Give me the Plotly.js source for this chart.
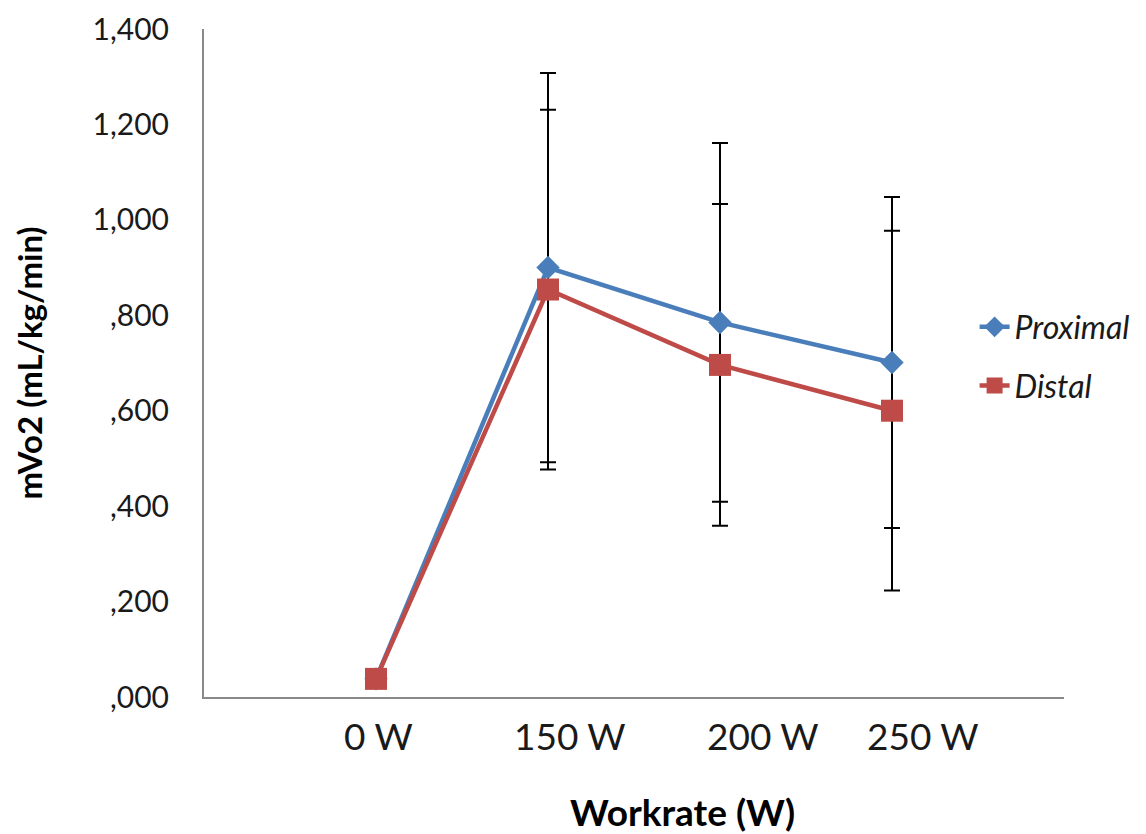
<!DOCTYPE html>
<html>
<head>
<meta charset="utf-8">
<script src="https://cdn.plot.ly/plotly-3.0.1.min.js"></script>
<style>
  html, body { margin: 0; padding: 0; background: #ffffff; }
  #chart { width: 1146px; height: 834px; }
</style>
</head>
<body>
<div id="chart"></div>
<script>
// Workrate categories and mean mVo2 per electrode position
const categories = ["0 W", "150 W", "200 W", "250 W"];
const proximal = [38, 900, 785, 701];
const distal = [38, 854, 696, 600];
// Standard deviations (symmetric error bars)
const proximalSD = [0, 408, 376, 347];
const distalSD = [0, 377, 337, 377];
// Y axis ticks
const yTickVals = [0, 200, 400, 600, 800, 1000, 1200, 1400];
const yTickText = [",000", ",200", ",400", ",600", ",800", "1,000", "1,200", "1,400"];

const BLUE = "#4A7EBB";
const RED = "#BE4B48";
const FONT = "Lato, 'Open Sans', sans-serif";

// Category label placement along the bottom (paper x)
const labelX = [0.203, 0.425, 0.650, 0.836];

function errTrace(y, sd) {
  return {
    x: categories, y: y, type: "scatter", mode: "markers",
    marker: { size: 1, opacity: 0 },
    error_y: { type: "data", array: sd, visible: true, color: "#000000", thickness: 2, width: 8 },
    showlegend: false, hoverinfo: "skip"
  };
}

const traces = [
  errTrace(proximal, proximalSD),
  errTrace(distal, distalSD),
  {
    x: categories, y: proximal, name: "Proximal", type: "scatter", mode: "lines+markers",
    line: { color: BLUE, width: 4.5 },
    marker: { symbol: "diamond", size: 18, color: BLUE },
    legendgroup: "p"
  },
  {
    x: categories, y: distal, name: "Distal", type: "scatter", mode: "lines+markers",
    line: { color: RED, width: 4.5 },
    marker: { symbol: "square", size: 22, color: RED },
    legendgroup: "d"
  }
];

const annotations = categories.map((c, i) => ({
  text: c, xref: "paper", yref: "paper", x: labelX[i], y: -0.057,
  xanchor: "center", yanchor: "middle", showarrow: false,
  font: { family: FONT, size: 37, color: "#1a1a1a" }
}));
annotations.push({
  text: "<b>Workrate (W)</b>", xref: "paper", yref: "paper", x: 0.556, y: -0.172,
  xanchor: "center", yanchor: "middle", showarrow: false,
  font: { family: FONT, size: 37, color: "#000000" }
});
annotations.push({
  text: "<b>mVo2 (mL/kg/min)</b>", xref: "paper", yref: "paper", x: -0.204, y: 0.5,
  xanchor: "center", yanchor: "middle", showarrow: false, textangle: -90,
  font: { family: FONT, size: 33, color: "#000000" }
});

const layout = {
  width: 1146, height: 834, autosize: false,
  margin: { l: 204, r: 81, t: 29, b: 137 },
  paper_bgcolor: "#ffffff", plot_bgcolor: "#ffffff",
  showlegend: true,
  legend: {
    x: 0.895, y: 0.595, xanchor: "left", yanchor: "top",
    font: { family: FONT, size: 32, color: "#1a1a1a", style: "italic" },
    traceorder: "grouped", tracegroupgap: 14, bgcolor: "rgba(0,0,0,0)"
  },
  xaxis: {
    type: "category", range: [-1, 4], showticklabels: false, ticks: "",
    showgrid: false, zeroline: false, showline: true, linecolor: "#898989", linewidth: 2
  },
  yaxis: {
    range: [0, 1400], tickvals: yTickVals, ticktext: yTickText, ticks: "",
    ticklabelstandoff: 27,
    showgrid: false, zeroline: false, showline: true, linecolor: "#898989", linewidth: 2,
    tickfont: { family: FONT, size: 30, color: "#1a1a1a" }
  },
  annotations: annotations
};

Plotly.newPlot("chart", traces, layout, { displayModeBar: false, staticPlot: true });
</script>
</body>
</html>
